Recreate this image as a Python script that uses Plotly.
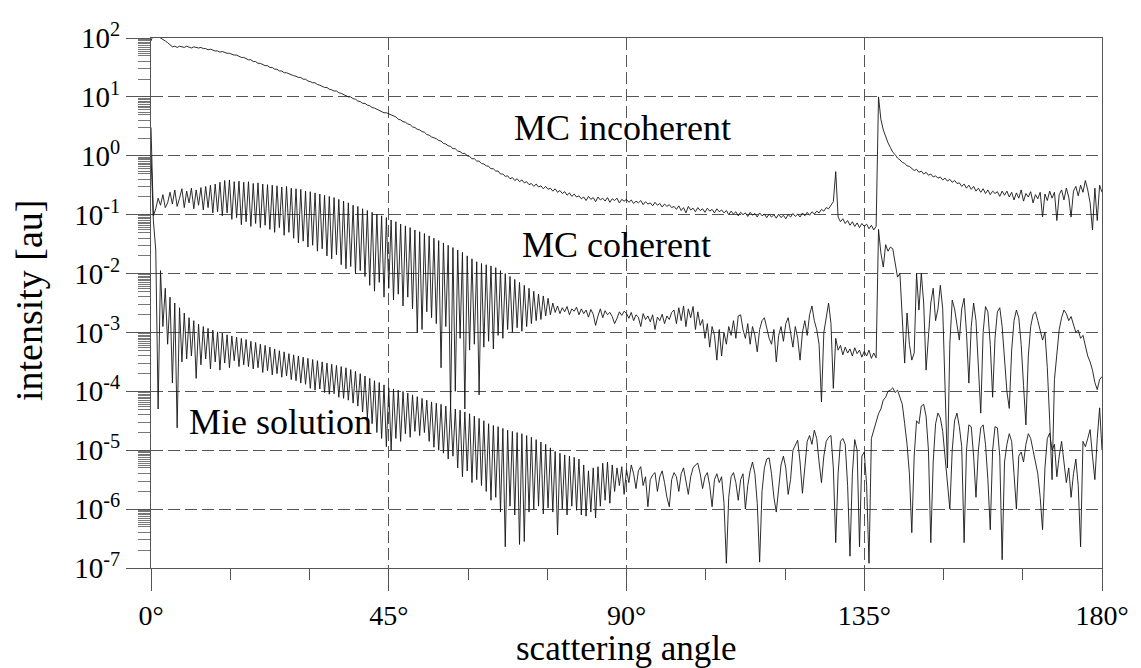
import numpy as np
import plotly.graph_objects as go

# ---------------- data (log10 of intensity, sampled every ANGLE_STEP degrees) ----------------
ANGLE_STEP = 0.45

INC_LOG = [
    1.95, 2.06, 2.04, 2.03, 2.00, 1.98, 1.95, 1.92, 1.88, 1.85, 1.86, 1.84, 1.86, 1.85, 1.84, 1.86, 1.85, 1.83, 1.85, 1.84,
    1.83, 1.84, 1.82, 1.82, 1.80, 1.81, 1.79, 1.78, 1.78, 1.76, 1.77, 1.75, 1.74, 1.74, 1.72, 1.71, 1.71, 1.69, 1.67, 1.67,
    1.65, 1.63, 1.63, 1.60, 1.60, 1.57, 1.57, 1.55, 1.53, 1.53, 1.50, 1.50, 1.47, 1.47, 1.44, 1.44, 1.41, 1.41, 1.39, 1.38,
    1.36, 1.35, 1.33, 1.33, 1.30, 1.30, 1.27, 1.26, 1.24, 1.24, 1.21, 1.20, 1.18, 1.16, 1.16, 1.13, 1.12, 1.10, 1.10, 1.07,
    1.06, 1.04, 1.03, 1.00, 1.00, 0.97, 0.96, 0.93, 0.92, 0.89, 0.89, 0.86, 0.85, 0.82, 0.81, 0.79, 0.77, 0.76, 0.73, 0.73,
    0.71, 0.70, 0.67, 0.66, 0.62, 0.61, 0.58, 0.57, 0.54, 0.53, 0.49, 0.48, 0.45, 0.44, 0.41, 0.40, 0.36, 0.35, 0.32, 0.31,
    0.29, 0.26, 0.25, 0.21, 0.20, 0.17, 0.16, 0.12, 0.12, 0.08, 0.07, 0.04, 0.04, 0.00, -0.01, -0.05, -0.05, -0.09, -0.09, -0.13,
    -0.14, -0.17, -0.18, -0.22, -0.22, -0.26, -0.26, -0.31, -0.31, -0.35, -0.34, -0.39, -0.37, -0.42, -0.39, -0.44, -0.41, -0.46, -0.44, -0.49,
    -0.47, -0.52, -0.48, -0.53, -0.51, -0.56, -0.52, -0.57, -0.55, -0.60, -0.56, -0.62, -0.59, -0.64, -0.61, -0.67, -0.63, -0.69, -0.65, -0.70,
    -0.68, -0.73, -0.70, -0.76, -0.69, -0.74, -0.71, -0.78, -0.70, -0.75, -0.72, -0.77, -0.71, -0.79, -0.73, -0.76, -0.72, -0.80, -0.74, -0.77,
    -0.74, -0.79, -0.75, -0.81, -0.77, -0.80, -0.76, -0.83, -0.78, -0.82, -0.80, -0.85, -0.79, -0.84, -0.81, -0.87, -0.82, -0.86, -0.83, -0.88,
    -0.86, -0.91, -0.85, -0.93, -0.88, -0.97, -0.86, -0.92, -0.89, -0.95, -0.88, -0.93, -0.90, -0.96, -0.89, -0.94, -0.91, -0.97, -0.90, -0.95,
    -0.92, -0.97, -0.93, -1.00, -0.94, -0.99, -0.95, -1.02, -0.96, -1.00, -0.97, -1.03, -0.96, -1.01, -0.98, -1.04, -0.97, -1.02, -0.99, -1.05,
    -0.99, -1.04, -1.00, -1.06, -0.99, -1.05, -1.01, -1.07, -1.00, -1.04, -0.98, -1.03, -0.99, -1.04, -0.97, -1.02, -0.96, -1.01, -0.95, -0.99,
    -0.94, -0.97, -0.91, -0.94, -0.88, -0.90, -0.84, -0.78, -0.27, -1.04, -1.12, -1.07, -1.15, -1.10, -1.18, -1.12, -1.20, -1.14, -1.22, -1.15,
    -1.20, -1.16, -1.24, -1.18, -1.26, -1.20, 1.00, 0.62, 0.44, 0.32, 0.22, 0.14, 0.06, 0.02, -0.04, -0.07, -0.11, -0.13, -0.17, -0.18,
    -0.21, -0.25, -0.23, -0.28, -0.26, -0.31, -0.28, -0.33, -0.31, -0.36, -0.34, -0.38, -0.36, -0.41, -0.38, -0.43, -0.40, -0.45, -0.42, -0.47,
    -0.46, -0.52, -0.48, -0.55, -0.50, -0.57, -0.52, -0.60, -0.55, -0.62, -0.56, -0.64, -0.58, -0.66, -0.60, -0.64, -0.61, -0.69, -0.60, -0.67,
    -0.60, -0.70, -0.62, -0.75, -0.63, -0.72, -0.58, -0.77, -0.64, -0.70, -0.61, -0.80, -0.66, -0.73, -0.62, -1.04, -0.65, -0.76, -0.60, -0.72,
    -0.62, -1.10, -0.66, -0.58, -0.75, -0.55, -0.70, -1.04, -0.60, -0.52, -0.68, -0.50, -0.62, -0.42, -0.58, -0.80, -1.26, -0.55, -1.10, -0.50,
    -0.62,
]

COH_LOG = [
    0.48, -1.02, -0.90, -0.72, -0.84, -0.66, -0.88, -0.80, -0.62, -0.82, -0.58, -0.86, -0.72, -0.56, -0.88, -0.60, -0.80, -0.55, -0.90, -0.58,
    -0.84, -0.54, -0.92, -0.52, -0.88, -0.50, -0.97, -0.48, -0.95, -0.45, -1.02, -0.42, -0.97, -0.41, -1.08, -0.44, -1.05, -0.43, -1.17, -0.45,
    -1.12, -0.44, -1.20, -0.47, -1.15, -0.46, -1.22, -0.48, -1.18, -0.49, -1.25, -0.50, -1.30, -0.51, -1.22, -0.53, -1.35, -0.52, -1.30, -0.55,
    -1.40, -0.56, -1.48, -0.57, -1.45, -0.60, -1.55, -0.61, -1.52, -0.63, -1.62, -0.65, -1.58, -0.67, -1.70, -0.69, -1.75, -0.71, -1.68, -0.74,
    -1.85, -0.77, -1.92, -0.80, -1.88, -0.84, -2.00, -0.86, -1.95, -0.90, -2.05, -0.93, -2.20, -0.96, -2.30, -0.99, -2.15, -1.02, -2.40, -1.05,
    -2.25, -1.09, -2.45, -1.12, -2.35, -1.16, -2.55, -1.19, -2.40, -1.22, -2.60, -1.26, -3.00, -1.29, -2.95, -1.32, -2.65, -1.36, -2.75, -1.40,
    -2.85, -1.44, -3.60, -1.48, -2.90, -1.52, -4.30, -1.56, -4.00, -1.60, -3.10, -1.64, -4.30, -1.70, -3.30, -1.75, -3.20, -1.80, -4.06, -1.83,
    -3.25, -1.85, -3.15, -1.87, -3.28, -1.90, -3.05, -1.95, -3.10, -2.00, -2.95, -2.05, -3.00, -2.10, -2.92, -2.15, -2.98, -2.20, -2.90, -2.25,
    -2.85, -2.30, -2.80, -2.35, -2.78, -2.38, -2.72, -2.42, -2.70, -2.50, -2.66, -2.55, -2.68, -2.58, -2.65, -2.56, -2.70, -2.60, -2.64, -2.57,
    -2.70, -2.60, -2.68, -2.62, -2.74, -2.61, -2.69, -2.88, -2.72, -2.60, -2.75, -2.63, -2.70, -2.66, -2.73, -2.85, -2.76, -2.65, -2.71, -2.64,
    -2.68, -2.76, -2.66, -2.80, -2.70, -2.74, -2.90, -2.68, -2.78, -2.72, -2.82, -2.70, -2.95, -2.74, -2.80, -2.69, -2.85, -2.72, -2.78, -2.66,
    -2.62, -2.85, -2.58, -2.80, -2.55, -2.90, -2.60, -2.75, -2.56, -2.95, -2.65, -2.88, -2.78, -3.10, -2.85, -3.25, -2.90, -3.05, -3.47, -2.95,
    -3.40, -3.00, -3.20, -2.90, -3.05, -2.80, -3.10, -2.72, -2.70, -2.95, -3.10, -2.85, -3.20, -2.90, -3.05, -3.33, -2.95, -2.80, -2.75, -2.95,
    -3.10, -3.20, -2.95, -3.50, -3.05, -2.90, -3.15, -2.85, -2.75, -3.00, -3.25, -2.90, -3.10, -3.47, -3.00, -2.80, -3.05, -2.70, -2.55, -2.80,
    -2.95, -3.20, -4.18, -3.00, -2.75, -2.50, -2.85, -3.95, -3.10, -3.30, -3.22, -3.38, -3.25, -3.35, -3.28, -3.40, -3.26, -3.36, -3.30, -3.42,
    -3.32, -3.40, -3.30, -3.44, -3.35, -3.43, -1.25, -1.65, -1.89, -1.51, -1.62, -1.55, -1.58, -1.80, -2.06, -2.00, -2.70, -3.52, -2.67, -3.20,
    -3.47, -3.35, -2.00, -2.62, -2.00, -2.50, -3.64, -3.00, -2.50, -2.25, -2.80, -2.60, -2.20, -2.60, -4.00, -5.30, -3.20, -2.45, -2.60, -2.90,
    -3.13, -2.60, -2.42, -3.00, -3.86, -2.90, -2.50, -2.80, -3.60, -4.37, -3.00, -2.56, -2.65, -3.20, -4.10, -3.10, -2.65, -2.58, -2.90, -3.50,
    -4.00, -4.29, -3.30, -2.80, -2.62, -2.75, -3.20, -3.90, -4.57, -3.40, -2.90, -2.70, -2.65, -2.80, -2.95, -3.13, -3.00, -3.60, -4.50, -5.50,
    -3.80, -3.30, -2.95, -2.75, -2.62, -2.68, -2.80, -2.73, -2.85, -3.00, -2.96, -3.10, -3.05, -3.24, -3.40, -3.50, -3.64, -3.85, -3.97, -3.80,
    -3.75,
]

MIE_LOG = [
    0.00, -1.10, -1.60, -4.30, -1.95, -2.90, -2.25, -3.20, -2.40, -3.86, -2.50, -4.62, -2.58, -3.50, -2.67, -3.45, -2.75, -3.40, -2.80, -3.78,
    -2.86, -3.55, -2.90, -3.45, -2.93, -3.62, -2.96, -3.50, -2.99, -3.64, -3.01, -3.52, -3.04, -3.60, -3.06, -3.48, -3.08, -3.58, -3.10, -3.55,
    -3.12, -3.58, -3.15, -3.62, -3.17, -3.60, -3.20, -3.68, -3.22, -3.65, -3.25, -3.72, -3.28, -3.70, -3.31, -3.76, -3.33, -3.74, -3.36, -3.80,
    -3.38, -3.82, -3.40, -3.86, -3.42, -3.88, -3.44, -3.95, -3.46, -3.98, -3.48, -3.96, -3.50, -4.02, -3.52, -4.05, -3.54, -4.04, -3.56, -4.10,
    -3.58, -4.12, -3.60, -4.15, -3.63, -4.20, -3.66, -4.25, -3.70, -4.35, -3.74, -4.45, -3.78, -4.55, -3.82, -4.70, -3.85, -4.80, -3.89, -4.94,
    -3.94, -5.00, -3.96, -4.80, -3.98, -4.85, -4.00, -4.72, -4.03, -4.78, -4.06, -4.68, -4.09, -4.75, -4.12, -4.70, -4.15, -4.85, -4.18, -4.95,
    -4.20, -5.00, -4.22, -5.05, -4.25, -5.15, -4.27, -5.10, -4.30, -5.30, -4.32, -5.45, -4.35, -5.35, -4.38, -5.55, -4.42, -5.50, -4.46, -5.60,
    -4.50, -5.70, -4.55, -5.85, -4.58, -5.80, -4.60, -6.05, -4.63, -6.64, -4.66, -5.95, -4.68, -6.10, -4.70, -6.60, -4.72, -6.55, -4.75, -6.05,
    -4.78, -6.00, -4.82, -5.95, -4.86, -6.08, -4.90, -5.98, -4.96, -6.05, -5.02, -6.44, -5.05, -6.00, -5.08, -6.10, -5.10, -5.95, -5.12, -6.02,
    -5.15, -6.10, -5.25, -6.12, -5.35, -6.05, -5.30, -6.15, -5.28, -5.95, -5.22, -5.85, -5.20, -5.90, -5.25, -5.70, -5.30, -5.60, -5.28, -5.75,
    -5.33, -5.55, -5.25, -5.40, -5.65, -5.35, -5.28, -5.60, -5.45, -5.96, -5.50, -5.42, -5.38, -5.70, -5.45, -5.35, -5.55, -5.80, -5.96, -5.50,
    -5.38, -5.45, -5.70, -5.40, -5.30, -5.55, -5.75, -5.45, -5.30, -5.25, -5.22, -5.40, -5.65, -5.45, -5.38, -5.60, -5.96, -5.50, -5.40, -5.55,
    -5.45, -5.90, -6.92, -5.80, -5.45, -5.38, -5.55, -5.85, -5.50, -5.40, -6.00, -5.60, -5.35, -5.20, -5.40, -5.90, -6.90, -5.70, -5.30, -5.15,
    -5.13, -5.40, -5.80, -6.05, -5.60, -5.25, -5.10, -5.30, -5.75, -5.50, -5.00, -4.90, -4.83, -5.20, -5.73, -5.30, -4.85, -4.75, -4.90, -4.66,
    -4.80, -5.20, -5.55, -5.10, -4.85, -4.78, -4.75, -5.30, -6.57, -5.40, -4.85, -4.80, -4.90, -5.60, -6.80, -5.40, -4.82, -5.00, -6.64, -5.10,
    -5.03, -5.60, -6.92, -4.80, -4.65, -4.50, -4.38, -4.30, -4.15, -4.10, -4.00, -3.98, -3.94, -4.02, -3.98, -4.10, -4.22, -4.55, -4.90, -5.40,
    -6.40, -5.10, -4.50, -4.55, -4.25, -4.22, -4.42, -5.00, -6.57, -5.20, -4.55, -4.37, -4.45, -4.68, -5.10, -5.60, -6.00, -5.00, -4.50, -4.37,
    -4.60, -4.94, -6.57, -5.00, -4.57, -4.60, -5.10, -5.80, -5.00, -4.62, -4.57, -4.90, -5.50, -6.35, -5.00, -4.60, -4.62, -5.10, -6.86, -5.20,
    -4.90, -4.72, -4.85, -5.40, -6.00, -5.10, -5.03, -5.20, -4.90, -4.72, -4.80, -5.00, -5.20, -5.40, -5.80, -6.35, -5.30, -4.80, -4.71, -5.00,
    -4.90, -5.45, -5.10, -4.85, -5.20, -5.55, -5.30, -5.80, -5.40, -5.15, -5.60, -6.64, -4.85, -4.94, -4.80, -4.65, -5.10, -5.50, -4.80, -4.28,
    -5.00,
]

# axis ticks / labels
X_MAJOR = [0, 45, 90, 135, 180]
X_MINOR = [15, 30, 60, 75, 105, 120, 150, 165]
Y_EXPONENTS = [2, 1, 0, -1, -2, -3, -4, -5, -6, -7]
Y_MINOR_MANTISSA = [2, 3, 4, 5, 5.5, 6, 6.5, 7, 7.5, 8, 8.5, 9, 9.5]

# curve labels: (text, angle, log10 intensity)
LABELS = [
    ("MC incoherent", 89.3, 0.47),
    ("MC coherent", 88.2, -1.51),
    ("Mie solution", 24.6, -4.52),
]

# ---------------- figure ----------------
FONT = "Liberation Serif"
AXC = "#555555"
LINEC = "#151515"

fig = go.Figure()
for name, vals in (("MC incoherent", INC_LOG), ("MC coherent", COH_LOG), ("Mie solution", MIE_LOG)):
    arr = np.array(vals, dtype=float)
    ang = np.arange(len(arr)) * ANGLE_STEP
    fig.add_trace(go.Scatter(x=ang, y=10.0 ** arr, mode="lines", name=name,
                             line=dict(color=LINEC, width=0.9), showlegend=False))

y_tickvals = [10.0 ** e for e in Y_EXPONENTS]
y_ticktext = [f"10<sup>{e}</sup>" for e in Y_EXPONENTS]
y_minor = [m * 10.0 ** e for e in Y_EXPONENTS[1:] for m in Y_MINOR_MANTISSA]

fig.update_layout(
    width=1141, height=668,
    margin=dict(l=151, r=31, t=38, b=100),
    paper_bgcolor="white", plot_bgcolor="white",
    font=dict(family=FONT, color="black"),
    xaxis=dict(
        range=[0, 180], tickmode="array", tickvals=X_MAJOR,
        ticktext=[f"{v}°" for v in X_MAJOR],
        ticks="outside", ticklen=22, tickwidth=1, tickcolor=AXC,
        showline=True, linecolor=AXC, linewidth=1, mirror=True,
        showgrid=True, gridcolor=AXC, gridwidth=1, griddash="12px,5px",
        zeroline=False, tickfont=dict(family=FONT, size=28, color="black"),
        minor=dict(tickvals=X_MINOR, ticks="outside", ticklen=11, tickcolor=AXC, showgrid=False),
    ),
    yaxis=dict(
        type="log", range=[-7, 2], tickmode="array", tickvals=y_tickvals, ticktext=y_ticktext,
        ticks="outside", ticklen=24, tickwidth=1, tickcolor=AXC,
        showline=True, linecolor=AXC, linewidth=1, mirror=True,
        showgrid=True, gridcolor=AXC, gridwidth=1, griddash="12px,5px",
        zeroline=False, tickfont=dict(family=FONT, size=29, color="black"),
        minor=dict(tickvals=y_minor, ticks="outside", ticklen=12, tickcolor="#777777", showgrid=False),
    ),
)

for text, ang, lg in LABELS:
    fig.add_annotation(x=ang, y=lg, xref="x", yref="y", text=text, showarrow=False,
                       font=dict(family=FONT, size=36, color="black"))

fig.add_annotation(x=0.5, y=-0.1525, xref="paper", yref="paper", text="scattering angle",
                   showarrow=False, xanchor="center", yanchor="middle",
                   font=dict(family=FONT, size=35, color="black"))
fig.add_annotation(x=-0.128, y=0.506, xref="paper", yref="paper", text="intensity [au]",
                   showarrow=False, textangle=-90, xanchor="center", yanchor="middle",
                   font=dict(family=FONT, size=38, color="black"))

fig.write_html("out.html")
